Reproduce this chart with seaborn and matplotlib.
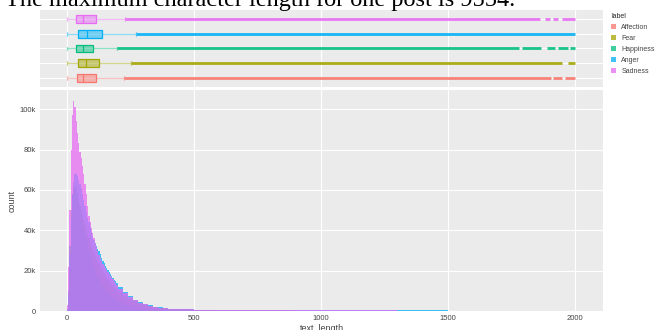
import numpy as np
import pandas as pd
import matplotlib
matplotlib.use("Agg")
import matplotlib.pyplot as plt
import seaborn as sns
from matplotlib.colors import to_rgba
from matplotlib.patches import Patch

# ---------------- data ----------------
labels = ["Affection", "Fear", "Happiness", "Anger", "Sadness"]
colors = ["#F8766D", "#A3A500", "#00BF7D", "#00B0F6", "#E76BF3"]

# box summaries of text_length per label
box_min = [2, 2, 2, 2, 2]
box_q1 = [41, 45, 38, 46, 38]
box_median = [64, 75, 64, 80, 64]
box_q3 = [117, 129, 104, 139, 117]
box_upper = [226, 254, 198, 274, 228]

# spans of text_length covered by outlier points (dense runs)
affection_outliers = [(226, 1905), (1913, 1948), (1962, 2000)]
fear_outliers = [(254, 1950), (1972, 2000)]
happiness_outliers = [(198, 1780), (1790, 1868), (1890, 1920), (1933, 1972), (1982, 2000)]
anger_outliers = [(274, 2000)]
sadness_outliers = [(228, 1862), (1882, 1902), (1913, 1933), (1949, 2000)]

# histogram bin edges: width 5 up to 200, 20 up to 400, 100 beyond
bin_edges = np.concatenate([np.arange(0, 200, 5), np.arange(200, 400, 20),
                            np.arange(400, 2001, 100)])

# counts per bin, in thousands
affection_k = [0.5, 7, 24, 38, 46, 50, 52, 52, 50.5, 48.5,
               46, 43.5, 41, 38.5, 36, 33.5, 31.3, 29.2, 27.3, 25.5,
               24, 22.5, 21, 19.6, 18.3, 17.1, 16, 14.9, 13.9, 13,
               12.1, 11.3, 10.6, 9.9, 9.3, 8.7, 8.1, 7.6, 7.1, 6.6,
               5.7, 4.3, 3.3, 2.5, 1.9, 1.45, 1.13, 0.9, 0.71, 0.57,
               0.4, 0.28, 0.2, 0.15, 0.12, 0.1, 0.08, 0.065, 0.055, 0.045,
               0.04, 0.035, 0.03, 0.025, 0.02, 0.02]
fear_k = [0.3, 5, 20, 36, 46, 51, 54, 55, 55, 54,
          52, 50, 47.5, 45, 42.5, 40, 38, 36, 34, 32,
          30.3, 28.8, 27.3, 25.8, 24.4, 23.1, 21.9, 20.8, 19.7, 18.7,
          17.7, 16.8, 15.9, 15.1, 14.3, 13.5, 12.8, 12.1, 11.4, 10.8,
          9.4, 7.6, 6.1, 4.9, 3.9, 3.1, 2.5, 2, 1.6, 1.3,
          0.75, 0.55, 0.42, 0.33, 0.26, 0.21, 0.17, 0.14, 0.12, 0.1,
          0.085, 0.07, 0.06, 0.05, 0.045, 0.04]
happiness_k = [0.8, 10, 32, 50, 58, 61, 62, 61, 58.5, 55.5,
               52, 48.5, 45, 41.5, 38.5, 35.5, 32.8, 30.2, 27.8, 25.6,
               23.6, 21.7, 20, 18.4, 17, 15.7, 14.5, 13.4, 12.4, 11.5,
               10.6, 9.8, 9.1, 8.4, 7.8, 7.2, 6.7, 6.2, 5.75, 5.3,
               4.3, 3.2, 2.4, 1.8, 1.35, 1.05, 0.82, 0.65, 0.52, 0.42,
               0.3, 0.2, 0.15, 0.11, 0.09, 0.07, 0.055, 0.045, 0.04, 0.035,
               0.03, 0.025, 0.02, 0.02, 0.015, 0.015]
anger_k = [0.5, 8, 28, 46, 58, 64, 68, 68, 67, 65,
           63, 61, 58, 55, 52, 49, 46, 44, 41.5, 39,
           37, 35, 33.5, 32, 30.7, 29.5, 28, 26.5, 25, 23.6,
           22.3, 21.2, 20.2, 19.2, 18.3, 17.4, 16.5, 15.6, 14.7, 13.8,
           11.8, 9.25, 7.25, 5.65, 4.45, 3.5, 2.75, 2.2, 1.8, 1.47,
           0.95, 0.7, 0.55, 0.45, 0.4, 0.36, 0.33, 0.3, 0.28, 0.26,
           0.25, 0.24, 0.23, 0.22, 0.21, 0.2]
sadness_k = [3, 22, 50, 80, 97, 104, 101, 94, 88, 83,
             79, 76, 72, 68, 63, 58, 52, 47, 44, 41,
             38.5, 36, 33.5, 31.5, 29.5, 27.8, 26.2, 24.8, 23.4, 22.2,
             21.2, 20.3, 19.3, 18.4, 17.5, 16.6, 15.7, 14.8, 13.9, 13,
             11.1, 8.75, 6.85, 5.3, 4.15, 3.3, 2.6, 2.05, 1.68, 1.38,
             0.88, 0.64, 0.5, 0.42, 0.37, 0.33, 0.3, 0.28, 0.26, 0.24,
             0.23, 0.22, 0.21, 0.2, 0.19, 0.18]

x_ticks = [0, 500, 1000, 1500, 2000]
y_ticks = [0, 20000, 40000, 60000, 80000, 100000]
y_tick_labels = ["0", "20k", "40k", "60k", "80k", "100k"]

title_text = "The maximum character length for one post is 9554."

# ---------------- style ----------------
sns.set_theme(style="darkgrid", rc={
    "axes.facecolor": "#EBEBEB",
    "grid.color": "white",
    "grid.linewidth": 0.8,
})
plt.rcParams["font.family"] = ["Liberation Sans", "DejaVu Sans"]
text_color = "#444444"

W, H = 655, 330
fig = plt.figure(figsize=(W / 100, H / 100), dpi=100)


def px_rect(left, top, right, bottom):
    return [left / W, 1 - bottom / H, (right - left) / W, (bottom - top) / H]


ax_box = fig.add_axes(px_rect(40, 10, 603, 87))
ax_hist = fig.add_axes(px_rect(40, 90, 603, 311))

# ---------------- marginal box plots ----------------
box_order = labels[::-1]
outliers = [affection_outliers, fear_outliers, happiness_outliers,
            anger_outliers, sadness_outliers]

for i, lab in enumerate(labels):
    c = colors[i]
    sub = pd.DataFrame({
        "label": [lab] * 5,
        "text_length": [box_min[i], box_q1[i], box_median[i], box_q3[i], box_upper[i]],
    })
    n_lines = len(ax_box.lines)
    n_patches = len(ax_box.patches)
    sns.boxplot(data=sub, x="text_length", y="label", order=box_order,
                color=c, width=0.52, fliersize=0, linewidth=0.9,
                whis=1.5, ax=ax_box)
    for p in ax_box.patches[n_patches:]:
        p.set_facecolor(to_rgba(c, 0.5))
        p.set_edgecolor(c)
    new_lines = ax_box.lines[n_lines:]
    for j, ln in enumerate(new_lines):
        ln.set_color(c)
        if j < 4:  # whiskers and caps
            ln.set_alpha(0.45)
    pos = box_order.index(lab)
    for lo, hi in outliers[i]:
        ax_box.hlines(pos, lo, hi, color=to_rgba(c, 0.9), linewidth=2.0, zorder=3)

ax_box.set_xlim(-105, 2110)
ax_box.set_ylim(4.6, -0.6)
ax_box.set_xticks(x_ticks)
ax_box.set_xticklabels([])
ax_box.set_yticks(range(5))
ax_box.set_yticklabels([])
ax_box.yaxis.grid(True)
ax_box.xaxis.grid(True)
ax_box.set_axisbelow(True)
ax_box.set_xlabel("")
ax_box.set_ylabel("")
ax_box.tick_params(axis="x", length=2.5, width=0.8, color="#BBBBBB", direction="out")
ax_box.tick_params(axis="y", length=0)
for s in ax_box.spines.values():
    s.set_visible(False)

# ---------------- overlaid histograms ----------------
bin_centers = (bin_edges[:-1] + bin_edges[1:]) / 2
series_k = [affection_k, fear_k, happiness_k, anger_k, sadness_k]
for i, lab in enumerate(labels):
    hist_df = pd.DataFrame({"text_length": bin_centers,
                            "count": np.array(series_k[i]) * 1000})
    sns.histplot(data=hist_df, x="text_length", weights="count",
                 bins=list(bin_edges), element="step", fill=True, alpha=0.75,
                 linewidth=0, color=colors[i], ax=ax_hist)

ax_hist.set_xlim(-105, 2110)
ax_hist.set_ylim(0, 109500)
ax_hist.set_xticks(x_ticks)
ax_hist.set_xticklabels([str(v) for v in x_ticks], fontsize=5.5, color=text_color)
ax_hist.set_yticks(y_ticks)
ax_hist.set_yticklabels(y_tick_labels, fontsize=5.5, color=text_color)
ax_hist.tick_params(axis="both", length=2, width=0.8, color="#BBBBBB",
                    direction="out", pad=1)
ax_hist.set_axisbelow(True)
ax_hist.set_xlabel("text_length", fontsize=6.5, color=text_color, labelpad=1)
ax_hist.set_ylabel("count", fontsize=6.5, color=text_color, labelpad=2)
for s in ax_hist.spines.values():
    s.set_visible(False)

# ---------------- legend and title ----------------
handles = [Patch(facecolor=to_rgba(c, 0.75), edgecolor="none") for c in colors]
fig.legend(handles, labels, title="label", loc="upper left",
           bbox_to_anchor=(608 / W, 1 - 10 / H), frameon=False,
           fontsize=5, title_fontsize=5, handlelength=0.7, handleheight=0.7,
           handletextpad=0.7, labelspacing=0.55, borderpad=0, alignment="left",
           labelcolor=text_color)

fig.text(5 / W, 1 - 6 / H, title_text, family=["Liberation Serif", "DejaVu Serif"],
         fontsize=17.5, ha="left", va="baseline", color="black")

fig.savefig("out.png", dpi=100)
